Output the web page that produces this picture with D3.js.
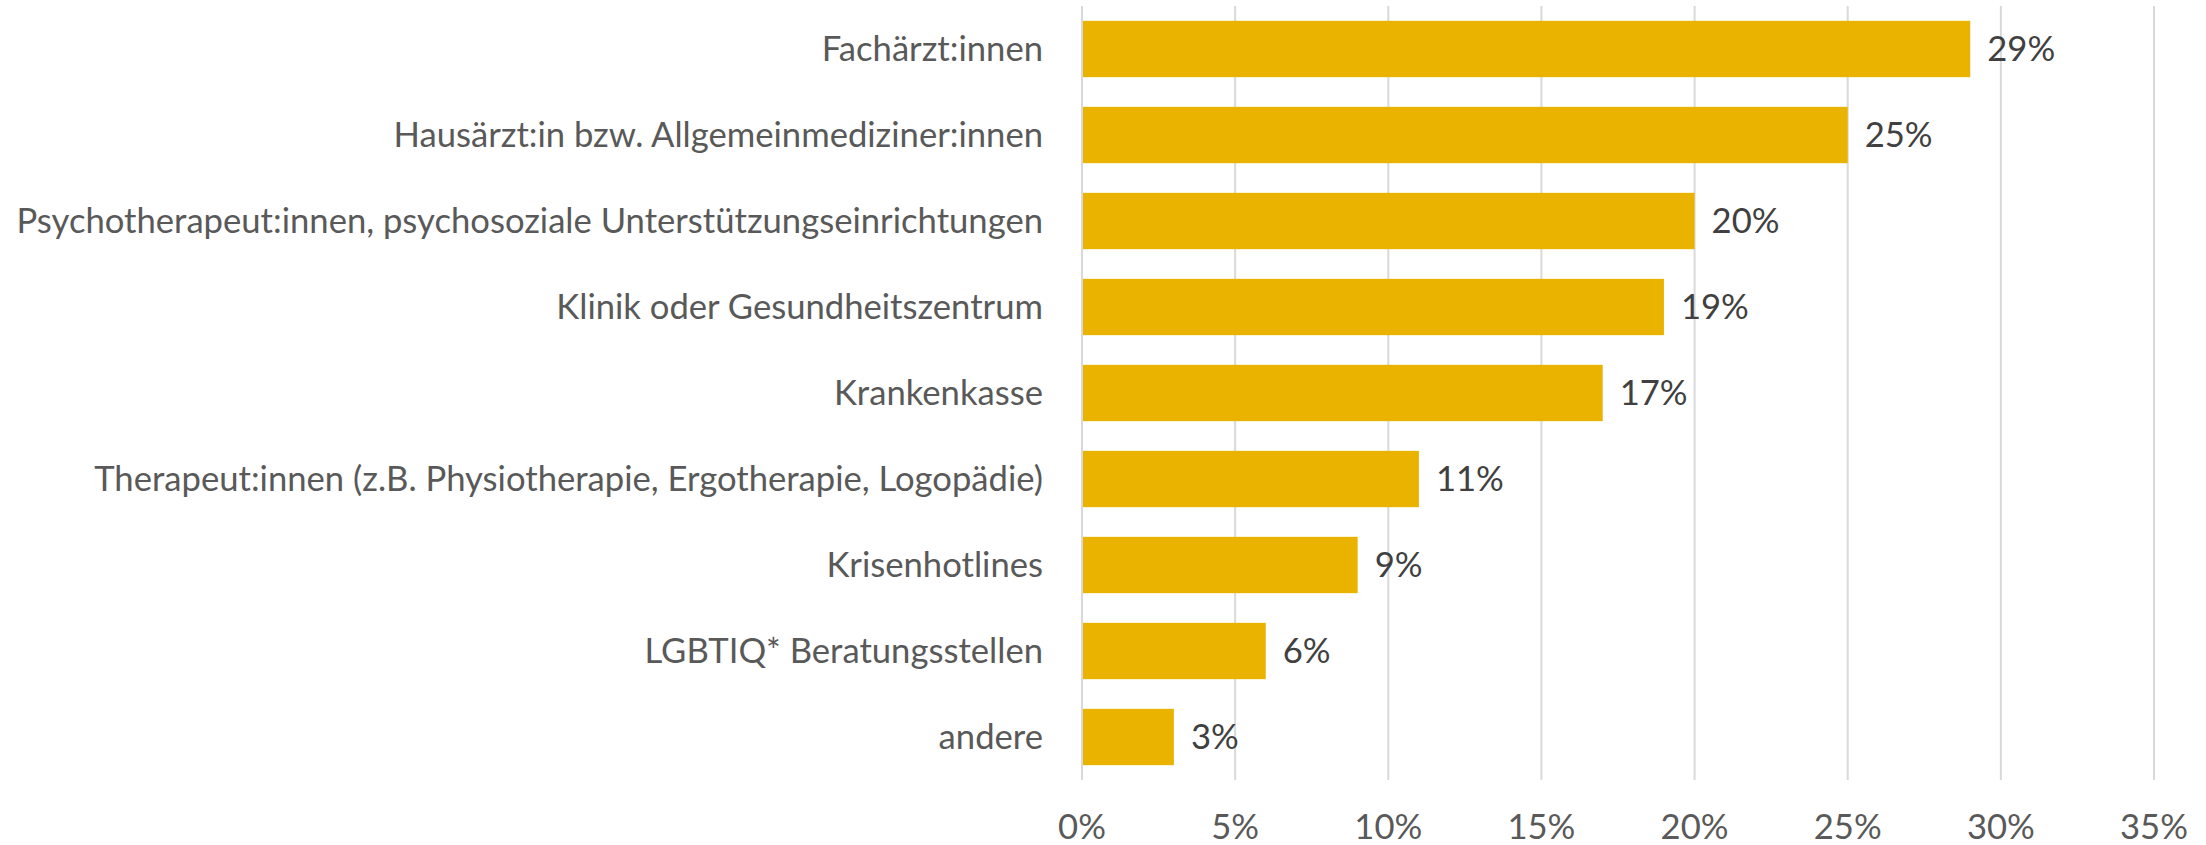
<!DOCTYPE html>
<html>
<head>
<meta charset="utf-8">
<script src="https://cdn.jsdelivr.net/npm/d3@7"></script>
<style>
  html, body { margin: 0; padding: 0; background: #fff; }
  svg text { font-family: Lato, "Open Sans", sans-serif; }
</style>
</head>
<body>
<div id="chart"></div>
<script>
// Data
const categories = [
  "Fachärzt:innen",
  "Hausärzt:in bzw. Allgemeinmediziner:innen",
  "Psychotherapeut:innen, psychosoziale Unterstützungseinrichtungen",
  "Klinik oder Gesundheitszentrum",
  "Krankenkasse",
  "Therapeut:innen (z.B. Physiotherapie, Ergotherapie, Logopädie)",
  "Krisenhotlines",
  "LGBTIQ* Beratungsstellen",
  "andere"
];
const values = [29, 25, 20, 19, 17, 11, 9, 6, 3];
const xTicks = [0, 5, 10, 15, 20, 25, 30, 35];

// Set the dimensions of the graph
const W = 2206, H = 845;
const margin = { top: 6, right: 52, bottom: 65, left: 1082 };
const width = W - margin.left - margin.right;
const height = H - margin.top - margin.bottom;

const svg = d3.select("#chart")
  .append("svg")
  .attr("width", W)
  .attr("height", H);

const g = svg.append("g")
  .attr("transform", "translate(" + margin.left + "," + margin.top + ")");

const x = d3.scaleLinear().domain([0, 35]).range([0, width]);
const y = d3.scaleBand().domain(categories).range([0, height])
  .paddingInner(0.345).paddingOuter(0.1725);

// Pick a font size so the longest label fits like in the picture
const probe = svg.append("text").style("font-size", "36px")
  .text(categories[2]);
const w36 = probe.node().getComputedTextLength();
probe.remove();
const fs = Math.min(40, 36 * 1027 / w36);

// Gridlines
g.selectAll("line.grid")
  .data(xTicks)
  .enter().append("line")
  .attr("class", "grid")
  .attr("x1", d => x(d)).attr("x2", d => x(d))
  .attr("y1", 0).attr("y2", height)
  .attr("stroke", "#d9d9d9")
  .attr("stroke-width", 2);

// Bars
g.selectAll("rect.bar")
  .data(values)
  .enter().append("rect")
  .attr("class", "bar")
  .attr("x", x(0) + 1)
  .attr("y", (d, i) => y(categories[i]))
  .attr("width", d => x(d) - x(0) - 1)
  .attr("height", y.bandwidth())
  .attr("fill", "#E9B300");

// Value labels
g.selectAll("text.val")
  .data(values)
  .enter().append("text")
  .attr("class", "val")
  .attr("x", d => x(d) + 17)
  .attr("y", (d, i) => y(categories[i]) + y.bandwidth() / 2)
  .attr("dy", "0.35em")
  .style("font-size", fs + "px")
  .attr("fill", "#404040")
  .text(d => d + "%");

// Category labels
g.selectAll("text.cat")
  .data(categories)
  .enter().append("text")
  .attr("class", "cat")
  .attr("x", -39)
  .attr("y", d => y(d) + y.bandwidth() / 2)
  .attr("dy", "0.35em")
  .attr("text-anchor", "end")
  .style("font-size", fs + "px")
  .attr("fill", "#595959")
  .text(d => d);

// X axis labels
g.selectAll("text.tick")
  .data(xTicks)
  .enter().append("text")
  .attr("class", "tick")
  .attr("x", d => x(d))
  .attr("y", 833)
  .attr("text-anchor", "middle")
  .style("font-size", fs + "px")
  .attr("fill", "#595959")
  .text(d => d + "%");
</script>
</body>
</html>
